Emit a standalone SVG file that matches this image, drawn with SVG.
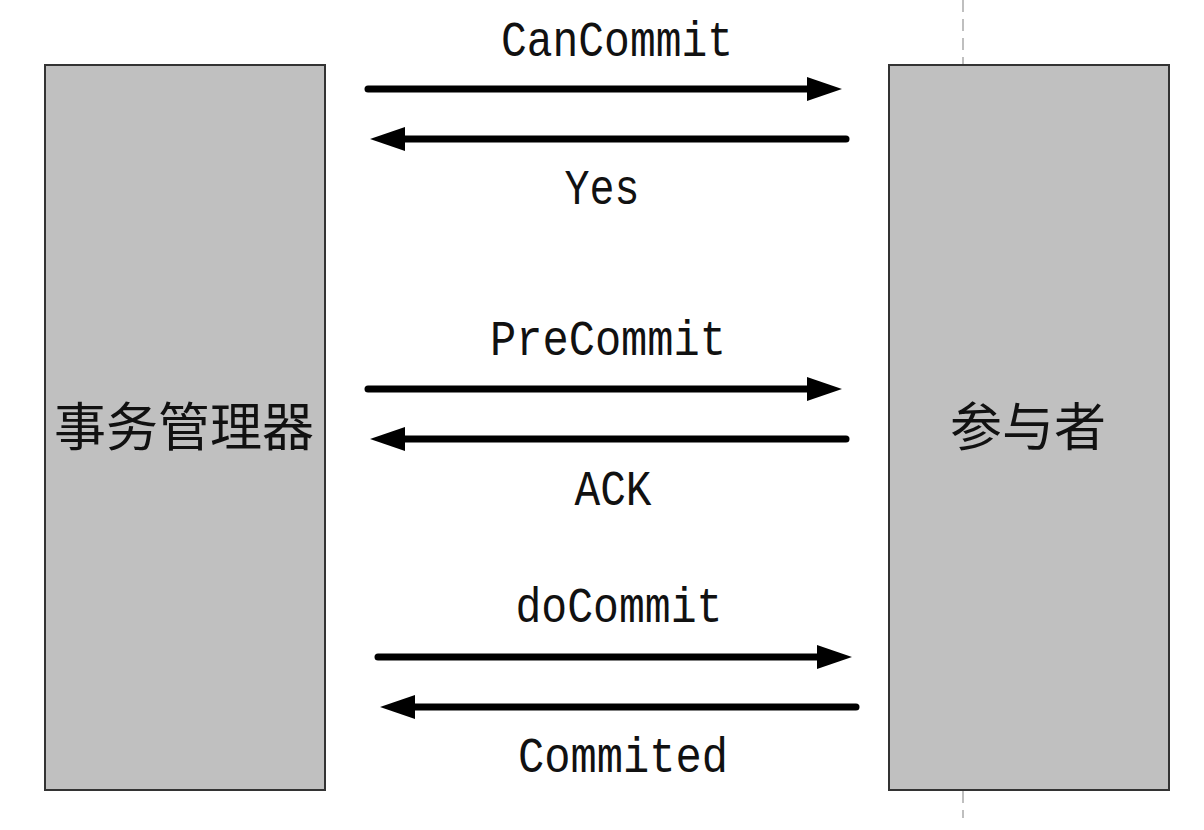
<svg xmlns="http://www.w3.org/2000/svg" width="1204" height="830" viewBox="0 0 1204 830">
<style>
.box{fill:#c0c0c0;stroke:#333;stroke-width:2}
.lbl{font-family:"Liberation Mono","DejaVu Sans Mono",monospace;font-size:50px;fill:#111;text-anchor:middle}
.cjk{font-family:"Noto Sans CJK SC","Noto Sans CJK JP",sans-serif;font-size:52px;fill:#111;text-anchor:middle}
.ln{stroke:#000;stroke-width:7;stroke-linecap:round;fill:none}
.hd{fill:#000}
.dash{stroke:#aaa;stroke-width:1.5;stroke-dasharray:12 7;fill:none}
</style>
<rect width="1204" height="830" fill="#fff"/>
<g id="lifeline">
<line class="dash" x1="963" y1="0" x2="963" y2="64"/>
<line class="dash" x1="963" y1="791" x2="963" y2="818"/>
</g>
<g id="manager">
<rect class="box" x="45" y="65" width="280" height="725"/>
<text class="cjk" x="184" y="446">事务管理器</text>
</g>
<g id="participant">
<rect class="box" x="889" y="65" width="280" height="725"/>
<text class="cjk" x="1028" y="446">参与者</text>
</g>
<g id="connectors">
<line class="ln" x1="368" y1="89" x2="815" y2="89"/>
<polygon class="hd" points="807,77 842,89 807,101"/>
<line class="ln" x1="846" y1="139" x2="398" y2="139"/>
<polygon class="hd" points="405,127 370,139 405,151"/>
<line class="ln" x1="368" y1="389" x2="815" y2="389"/>
<polygon class="hd" points="807,377 842,389 807,401"/>
<line class="ln" x1="846" y1="439" x2="398" y2="439"/>
<polygon class="hd" points="405,427 370,439 405,451"/>
<line class="ln" x1="378" y1="657" x2="825" y2="657"/>
<polygon class="hd" points="817,645 852,657 817,669"/>
<line class="ln" x1="856" y1="707" x2="408" y2="707"/>
<polygon class="hd" points="415,695 380,707 415,719"/>
</g>
<g id="labels">
<text class="lbl" x="617" y="56" textLength="232" lengthAdjust="spacingAndGlyphs">CanCommit</text>
<text class="lbl" x="602" y="204" textLength="75" lengthAdjust="spacingAndGlyphs">Yes</text>
<text class="lbl" x="608" y="355" textLength="236" lengthAdjust="spacingAndGlyphs">PreCommit</text>
<text class="lbl" x="613" y="505" textLength="77" lengthAdjust="spacingAndGlyphs">ACK</text>
<text class="lbl" x="619" y="622" textLength="207" lengthAdjust="spacingAndGlyphs">doCommit</text>
<text class="lbl" x="623" y="772" textLength="210" lengthAdjust="spacingAndGlyphs">Commited</text>
</g>
</svg>
